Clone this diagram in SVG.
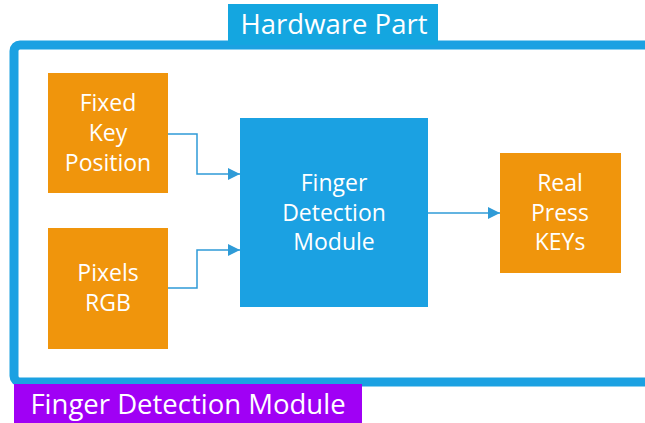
<svg xmlns="http://www.w3.org/2000/svg" width="645" height="423" viewBox="0 0 645 423">
  <defs>
    <style>
      .lbl { font-family: "Open Sans", "Noto Sans", "DejaVu Sans", sans-serif; fill: #ffffff; text-anchor: middle; }
      .box-text { font-size: 23px; }
      .title { font-size: 27.5px; }
      .orange { fill: #f0950c; }
      .blue { fill: #1ba1e2; }
      .wire { fill: none; stroke: #2f9bd7; stroke-width: 1.5; }
    </style>
    <marker id="arrow" viewBox="0 0 12 12" refX="12" refY="6" markerWidth="12" markerHeight="12" markerUnits="userSpaceOnUse" orient="auto">
      <path d="M0,0 L12,6 L0,12 z" fill="#2f9bd7"/>
    </marker>
  </defs>
  <rect width="645" height="423" fill="#ffffff"/>

  <!-- outer frame -->
  <g id="frame">
    <rect x="14" y="45" width="650" height="337" rx="6" fill="none" stroke="#1ba1e2" stroke-width="9"/>
  </g>

  <g id="hardware-label">
    <rect x="228" y="4" width="210" height="41" fill="#14a6e0"/>
    <text class="lbl title" x="334" y="34">Hardware Part</text>
  </g>

  <g id="module-label">
    <rect x="14" y="384" width="348" height="39" fill="#a000f5"/>
    <text class="lbl title" x="188" y="414">Finger Detection Module</text>
  </g>

  <g id="connectors">
    <path class="wire" d="M168,134 H197 V174 H240" marker-end="url(#arrow)"/>
    <path class="wire" d="M168,288 H197 V250 H240" marker-end="url(#arrow)"/>
    <path class="wire" d="M428,213 H500" marker-end="url(#arrow)"/>
  </g>

  <g id="fixed-key-position">
    <rect class="orange" x="48" y="73" width="120" height="120"/>
    <text class="lbl box-text" x="108" y="111">Fixed</text>
    <text class="lbl box-text" x="108" y="141">Key</text>
    <text class="lbl box-text" x="108" y="171">Position</text>
  </g>

  <g id="pixels-rgb">
    <rect class="orange" x="48" y="228" width="120" height="121"/>
    <text class="lbl box-text" x="108" y="281">Pixels</text>
    <text class="lbl box-text" x="108" y="311">RGB</text>
  </g>

  <g id="finger-detection">
    <rect class="blue" x="240" y="118" width="188" height="189"/>
    <text class="lbl box-text" x="334" y="191">Finger</text>
    <text class="lbl box-text" x="334" y="221">Detection</text>
    <text class="lbl box-text" x="334" y="250">Module</text>
  </g>

  <g id="real-press-keys">
    <rect class="orange" x="500" y="153" width="121" height="120"/>
    <text class="lbl box-text" x="560" y="191">Real</text>
    <text class="lbl box-text" x="560" y="221">Press</text>
    <text class="lbl box-text" x="560" y="250">KEYs</text>
  </g>
</svg>
